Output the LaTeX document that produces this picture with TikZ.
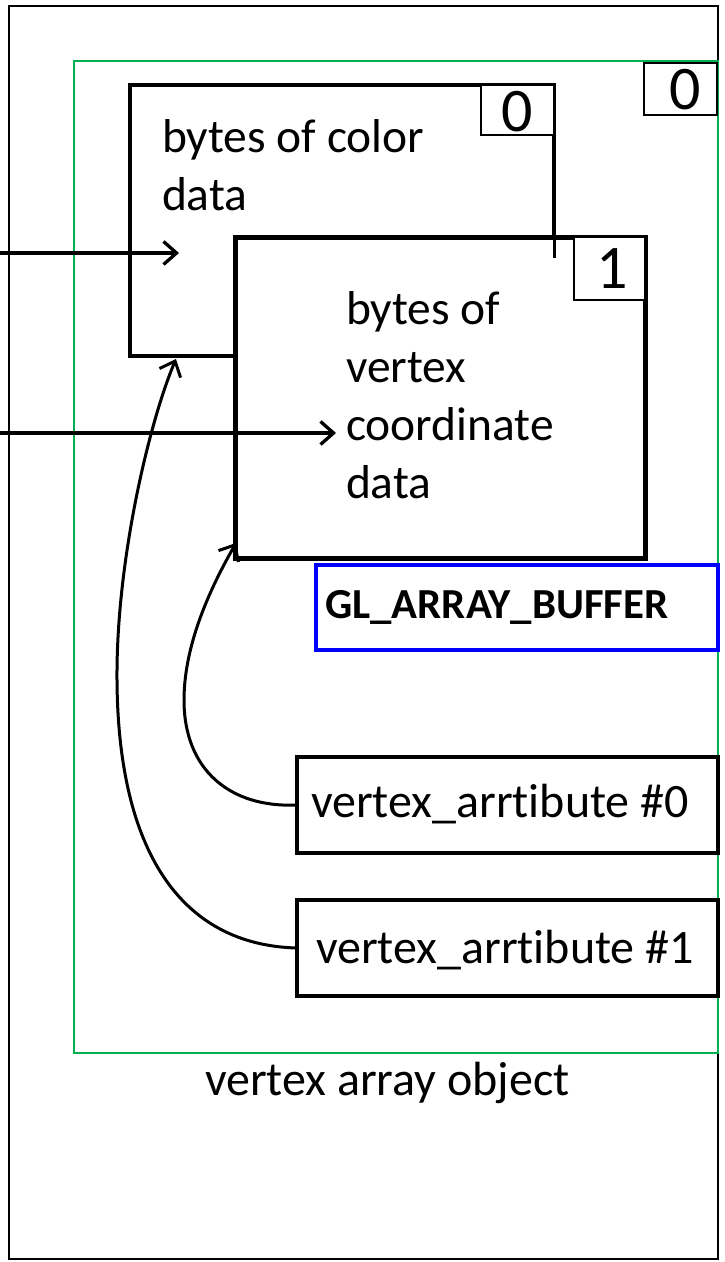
\documentclass[tikz,border=0pt]{standalone}
\usepackage{fontspec}
\setmainfont{Carlito}[Ligatures=NoCommon]
\usetikzlibrary{arrows.meta}

\definecolor{vaogreen}{HTML}{00B050}
\definecolor{bufblue}{HTML}{0000FF}

\tikzset{
  pbox/.style={draw, fill=white, inner sep=0pt, outer sep=0pt, anchor=north west},
  idxbox/.style={pbox, line width=1.5pt},
  % multi-line text: the base anchor sits on the last line
  bodytext/.style={inner sep=0pt, outer sep=0pt, anchor=base west, align=left,
                   font=\fontsize{47.5pt}{57.7pt}\selectfont},
  digit/.style={inner sep=0pt, outer sep=0pt, anchor=base,
                font=\fontsize{62pt}{70pt}\selectfont},
  barb/.style={-{Straight Barb[length=13pt,width=23pt]}, line width=3.3pt},
  link/.style={-{Straight Barb[length=13pt,width=23pt]}, line width=3pt},
}

\begin{document}
\begin{tikzpicture}[x=1pt,y=-1pt]
\useasboundingbox (0,0) rectangle (725,1262);

% outer frame and vertex array object frame
\node[pbox, line width=2.2pt, minimum width=709pt, minimum height=1253pt] (frame) at (9,6) {};
\node[pbox, draw=vaogreen, line width=2pt, minimum width=644pt, minimum height=992pt] (vao) at (74,61) {};
\node[idxbox, minimum width=73pt, minimum height=52pt] (vaoidx) at (644,63) {};
\node[digit] (vaoidxtxt) at (685,109) {0};

% buffer 0: colour data
\node[pbox, line width=3.6pt, minimum width=424pt, minimum height=271pt] (color) at (130,85) {};
\node[idxbox, minimum width=73pt, minimum height=50pt] (coloridx) at (481,85) {};
\node[digit] (coloridxtxt) at (517,131) {0};
\node[bodytext] (colortxt) at (162,210) {bytes of color\\data};

% buffer 1: vertex coordinates
\node[pbox, line width=5pt, minimum width=410pt, minimum height=321pt] (vtx) at (235,237) {};
\draw[line width=3pt] (color.north east) -- ++(0,173);
\node[idxbox, minimum width=71pt, minimum height=63pt] (vtxidx) at (574,237) {};
\node[digit] (vtxidxtxt) at (612,288) {1};
\node[bodytext] (vtxtxt) at (346,498) {bytes of\\vertex\\coordinate\\data};

% binding target
\node[pbox, draw=bufblue, line width=4pt, minimum width=402pt, minimum height=85pt] (target) at (316,565) {};
\node[inner sep=0pt, anchor=base west, font=\fontsize{42.8pt}{50pt}\selectfont\bfseries] (targettxt) at (325,618) {GL\_ARRAY\_BUFFER};

% attributes
\node[pbox, line width=3.6pt, minimum width=421pt, minimum height=96pt] (attr0) at (297,757) {};
\node[bodytext, font=\fontsize{48pt}{57.7pt}\selectfont] (attr0txt) at (311,817) {vertex\_arrtibute \#0};
\node[pbox, line width=3.6pt, minimum width=421pt, minimum height=96pt] (attr1) at (297,900) {};
\node[bodytext, font=\fontsize{48pt}{57.7pt}\selectfont] (attr1txt) at (316,963) {vertex\_arrtibute \#1};

\node[bodytext, font=\fontsize{48pt}{57.7pt}\selectfont] (vaotxt) at (205,1095) {vertex array object};

% incoming data arrows
\coordinate (colorsrc) at (0,253);
\coordinate (colordst) at (179,253);
\coordinate (vtxsrc) at (0,433);
\coordinate (vtxdst) at (336,433);
\draw[barb] (colorsrc) -- (colordst);
\draw[barb] (vtxsrc) -- (vtxdst);

% attribute pointers
\coordinate (vtxin) at ([xshift=1pt,yshift=15pt]vtx.south west);
\coordinate (colorin) at (176,359);
\draw[link] (attr0.west) .. controls (230,808) and (184,770) .. (184,700)
            .. controls (184,640) and (215,580) .. (vtxin);
\draw[link] (attr1.west) .. controls (180,945) and (118,850) .. (117,680)
            .. controls (116,560) and (150,420) .. (colorin);
\end{tikzpicture}
\end{document}
